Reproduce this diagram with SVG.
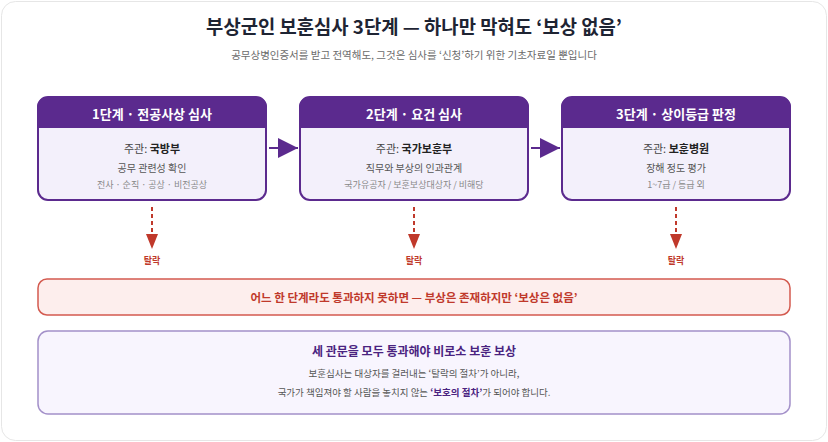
<svg xmlns="http://www.w3.org/2000/svg" width="828" height="442" viewBox="0 0 828 442">
<style>
text{font-family:"Noto Sans CJK KR","Noto Sans",sans-serif;text-anchor:middle}
.title{font-size:18.8px;font-weight:700;fill:#1e2433}
.sub{font-size:10.5px;fill:#6b6b6b}
.hd{font-size:13px;font-weight:700;fill:#ffffff}
.org{font-size:11px;fill:#444}
.orgb{font-weight:700;fill:#222}
.d1{font-size:10px;fill:#555}
.d2{font-size:9px;fill:#888}
.body{fill:#f3f0fb;stroke:#5b2a8e;stroke-width:2}
.head{fill:#5b2a8e}
.drop{font-size:9px;font-weight:700;fill:#c0392b}
.warn{font-size:11.5px;font-weight:700;fill:#c0392b}
.ct{font-size:12px;font-weight:700;fill:#4a2380}
.cb{font-size:9.5px;fill:#555}
</style>
<defs>
<marker id="ah" viewBox="0 0 20 20" refX="20" refY="10" markerWidth="20" markerHeight="20" markerUnits="userSpaceOnUse" orient="auto"><path d="M0,0 L20,10 L0,20 Z" fill="#5b2a8e"/></marker>
<marker id="rh" viewBox="0 0 15 12" refX="15" refY="6" markerWidth="15" markerHeight="12" markerUnits="userSpaceOnUse" orient="auto"><path d="M0,0 L15,6 L0,12 Z" fill="#c0392b"/></marker>
</defs>
<rect x="1.5" y="1.5" width="825" height="439" rx="14" fill="#ffffff" stroke="#e6e6e6" stroke-width="1"/>
<g id="title">
<text class="title" x="414" y="34">부상군인 보훈심사 3단계 — 하나만 막혀도 ‘보상 없음’</text>
<text class="sub" x="414" y="59">공무상병인증서를 받고 전역해도, 그것은 심사를 ‘신청’하기 위한 기초자료일 뿐입니다</text>
</g>
<g id="stage1">
<rect class="body" x="38" y="97" width="228" height="103" rx="10"/>
<path class="head" d="M37,128 V107 a10,10 0 0 1 10,-10 H257 a10,10 0 0 1 10,10 V128 Z"/>
<text class="hd" x="152" y="119">1단계 · 전공사상 심사</text>
<text class="org" x="152" y="153">주관: <tspan class="orgb">국방부</tspan></text>
<text class="d1" x="152" y="172">공무 관련성 확인</text>
<text class="d2" x="152" y="188">전사 · 순직 · 공상 · 비전공상</text>
</g>
<g id="stage2">
<rect class="body" x="300" y="97" width="228" height="103" rx="10"/>
<path class="head" d="M299,128 V107 a10,10 0 0 1 10,-10 H519 a10,10 0 0 1 10,10 V128 Z"/>
<text class="hd" x="414" y="119">2단계 · 요건 심사</text>
<text class="org" x="414" y="153">주관: <tspan class="orgb">국가보훈부</tspan></text>
<text class="d1" x="414" y="172">직무와 부상의 인과관계</text>
<text class="d2" x="414" y="188">국가유공자 / 보훈보상대상자 / 비해당</text>
</g>
<g id="stage3">
<rect class="body" x="562" y="97" width="228" height="103" rx="10"/>
<path class="head" d="M561,128 V107 a10,10 0 0 1 10,-10 H781 a10,10 0 0 1 10,10 V128 Z"/>
<text class="hd" x="676" y="119">3단계 · 상이등급 판정</text>
<text class="org" x="676" y="153">주관: <tspan class="orgb">보훈병원</tspan></text>
<text class="d1" x="676" y="172">장해 정도 평가</text>
<text class="d2" x="676" y="188">1~7급 / 등급 외</text>
</g>
<g id="connectors">
<line x1="269" y1="148" x2="298" y2="148" stroke="#5b2a8e" stroke-width="2" marker-end="url(#ah)"/>
<line x1="531" y1="148" x2="560" y2="148" stroke="#5b2a8e" stroke-width="2" marker-end="url(#ah)"/>
<line x1="152" y1="207" x2="152" y2="249" stroke="#c0392b" stroke-width="2" stroke-dasharray="4,3" marker-end="url(#rh)"/>
<line x1="414" y1="207" x2="414" y2="249" stroke="#c0392b" stroke-width="2" stroke-dasharray="4,3" marker-end="url(#rh)"/>
<line x1="676" y1="207" x2="676" y2="249" stroke="#c0392b" stroke-width="2" stroke-dasharray="4,3" marker-end="url(#rh)"/>
<text class="drop" x="152" y="264">탈락</text>
<text class="drop" x="414" y="264">탈락</text>
<text class="drop" x="676" y="264">탈락</text>
</g>
<g id="warning">
<rect x="38" y="279" width="752" height="36" rx="9" fill="#fdeeed" stroke="#d35a4f" stroke-width="1.5"/>
<text class="warn" x="414" y="302">어느 한 단계라도 통과하지 못하면 — 부상은 존재하지만 ‘보상은 없음’</text>
</g>
<g id="conclusion">
<rect x="38" y="331" width="752" height="83" rx="10" fill="#f8f5fe" stroke="#a390c9" stroke-width="1.5"/>
<text class="ct" x="414" y="356">세 관문을 모두 통과해야 비로소 보훈 보상</text>
<text class="cb" x="414" y="377">보훈심사는 대상자를 걸러내는 ‘탈락의 절차’가 아니라,</text>
<text class="cb" x="414" y="396">국가가 책임져야 할 사람을 놓치지 않는 <tspan font-weight="700" fill="#4a2380">‘보호의 절차’</tspan>가 되어야 합니다.</text>
</g>
</svg>
